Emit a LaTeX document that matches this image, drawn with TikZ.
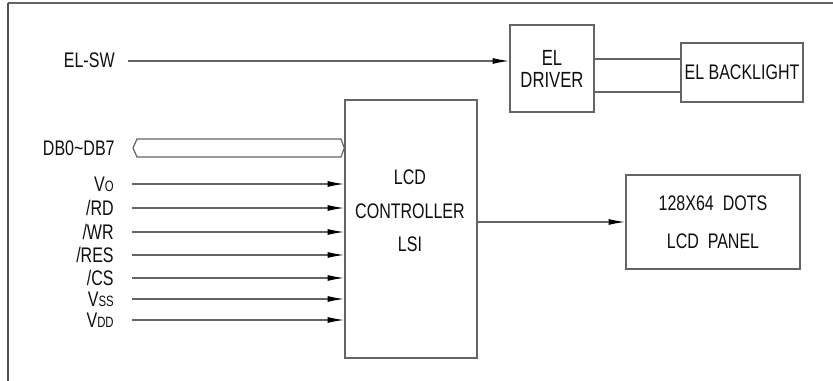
\documentclass[tikz,border=0pt]{standalone}
\usepackage{fontspec}
\setmainfont{Liberation Sans}[FakeStretch=0.76]
\usepackage{tikz}
\usetikzlibrary{arrows.meta}

\definecolor{linegray}{RGB}{100,100,100}
\definecolor{txtgray}{RGB}{15,15,15}
\newcommand{\lowcaps}[1]{{\fontsize{8.5}{10}\selectfont #1}}

\tikzset{
  blk/.style={draw=linegray, line width=0.8pt, inner sep=0pt, text=txtgray},
  wire/.style={draw=linegray, line width=0.7pt},
  sig/.style={wire, -{Latex[length=9.5pt,width=3.4pt,black]}},
  lbl/.style={anchor=east, inner sep=0pt, text height=8.6pt, text depth=0pt, text=txtgray}
}

\begin{document}
\begin{tikzpicture}[x=0.02cm, y=-0.02cm, font=\fontsize{12}{14}\selectfont]
\useasboundingbox (0,0) rectangle (833,381);

%frame
\draw[linegray, line width=0.8pt] (8,3) -- (833,3);
\draw[linegray!80!black, line width=1.2pt] (8,3) -- (8,381);

%EL part
\node[blk, minimum width=1.68cm, minimum height=1.74cm, align=center,
      font=\fontsize{12.5}{12.5}\selectfont] (drv) at (552,68.5) {EL\\DRIVER};
\node[blk, minimum width=2.44cm, minimum height=1.18cm] (bl) at (742,72.5) {EL BACKLIGHT};

\node[lbl] (elswlbl) at (115,60) {EL-SW};
\coordinate (elsw) at (128,61);
\draw[sig] (elsw) -- (elsw -| drv.west);

\coordinate (drvA) at (594,59);
\coordinate (drvB) at (594,92);
\draw[wire] (drvA) -- (drvA -| bl.west);
\draw[wire] (drvB) -- (drvB -| bl.west);

%LCD part
\node[blk, minimum width=2.64cm, minimum height=5.16cm] (ctrl) at (411,229) {};
\node[align=center, inner sep=0pt, text=txtgray, font=\fontsize{12}{19}\selectfont]
  (ctrltxt) at (410,211) {LCD\\CONTROLLER\\LSI};

\node[blk, minimum width=3.48cm, minimum height=1.88cm, align=center,
      font=\fontsize{12}{21.6}\selectfont] (panel) at (713,222) {128X64~~DOTS\\LCD~~PANEL};

\draw[sig] (ctrl.east |- panel.west) -- (panel.west);

%data bus
\node[lbl] (dblbl) at (115,148) {DB0\textasciitilde DB7};
\draw[wire] (133,148) -- (137,139) -- (341,139) -- (ctrl.west |- 0,148)
  -- (341,157) -- (137,157) -- cycle;

%control inputs
\foreach \y/\txt [count=\i] in {184/{V\lowcaps{O}}, 208/{/RD}, 232/{/WR}, 255/{/RES},
                                278/{/CS}, 299/{V\lowcaps{SS}}, 320/{V\lowcaps{DD}}} {
  \node[lbl] (siglbl\i) at (114,\y) {\txt};
  \coordinate (sigin\i) at (132,\y);
  \draw[sig] (sigin\i) -- (sigin\i -| ctrl.west);
}
\end{tikzpicture}
\end{document}
